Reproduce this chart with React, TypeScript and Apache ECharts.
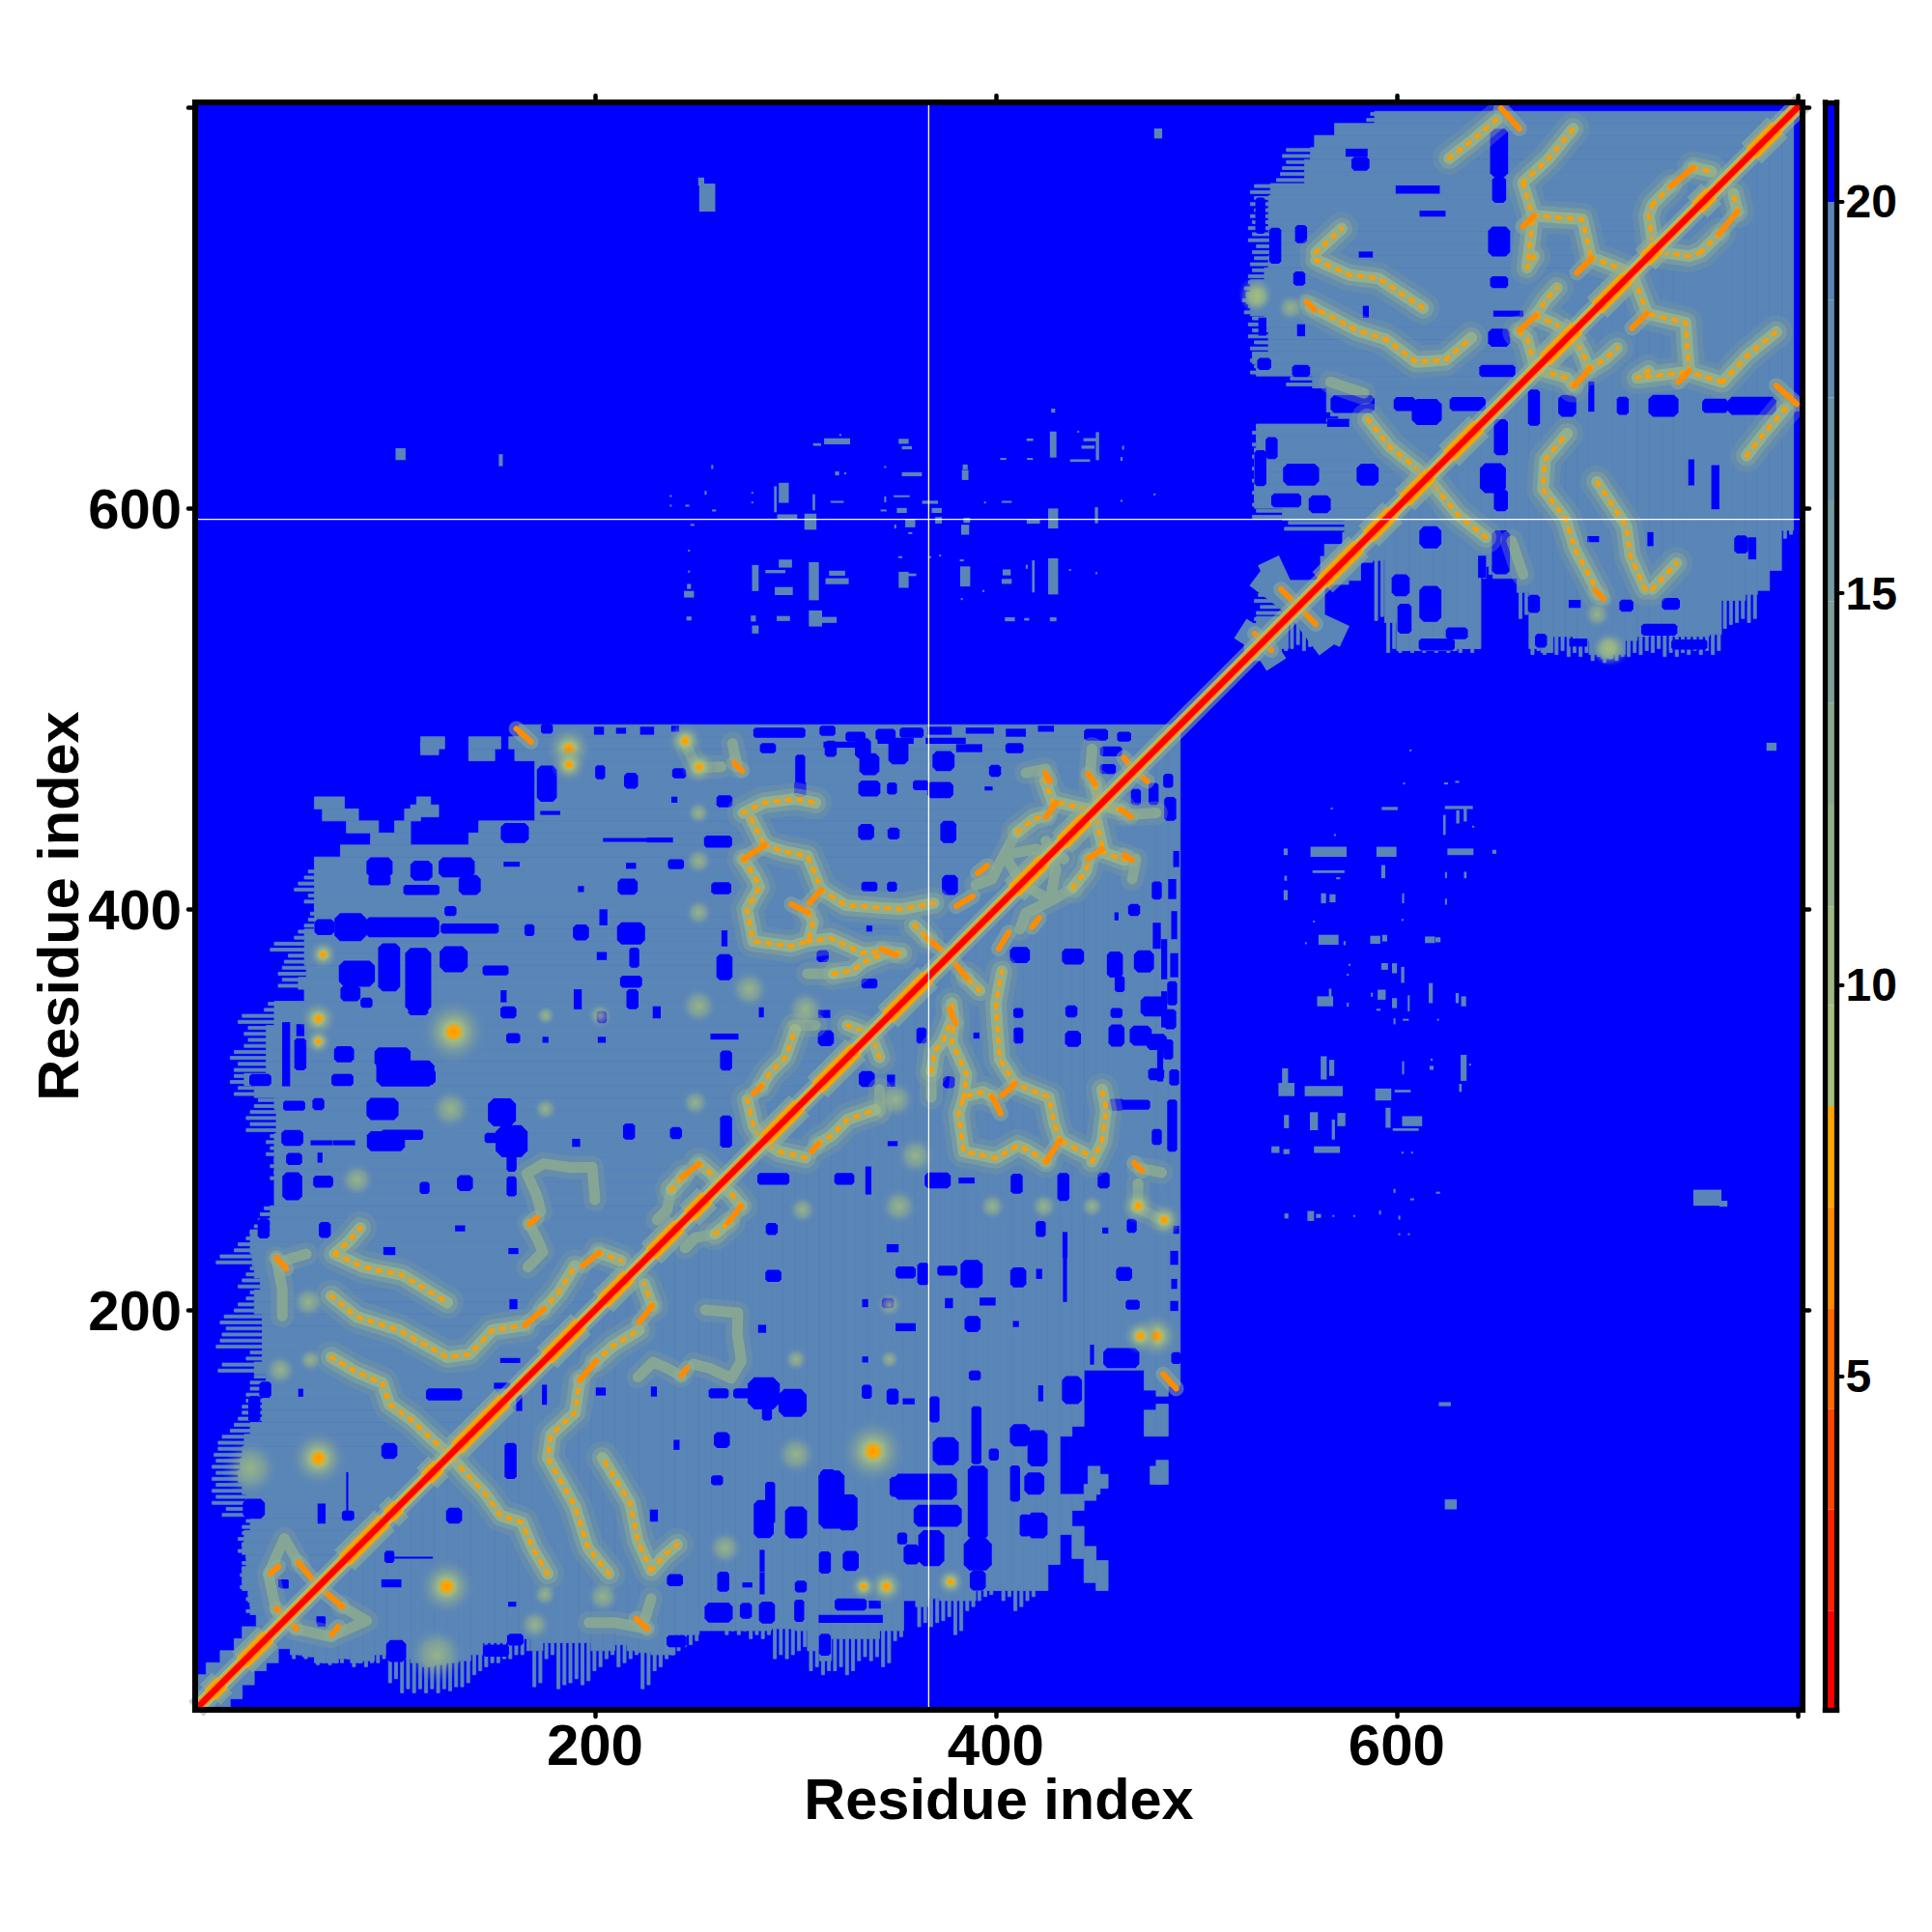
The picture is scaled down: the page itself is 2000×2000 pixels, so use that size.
import React, { useEffect, useRef } from "react";
import * as echarts from "echarts";

const AXIS_MIN = 0.5;
const AXIS_MAX = 802.5;
const STEEL = "#5a85b7";
const BLUE = "#0000ff";

const xTickLabels = [200, 400, 600];
const tickValues = [200, 400, 600, 800];
const barTicks = [5, 10, 15, 20];
const missingColumn = 366.5;
const missingRow = 594.5;

// colour bar: [from, to, colour]
const barBands: [number, number, string][] = [
  [0.74, 2.0, "#ff0000"], [2.0, 3.3, "#ff2200"], [3.3, 4.58, "#ff4500"], [4.58, 5.87, "#ff6a00"],
  [5.87, 7.16, "#ff8c00"], [7.16, 8.45, "#ffa500"], [8.45, 9.74, "#a6bf7e"], [9.74, 11.0, "#9db883"],
  [11.0, 12.3, "#93ae88"], [12.3, 13.6, "#8aa88f"], [13.6, 14.9, "#7f9f98"], [14.9, 16.2, "#749aa2"],
  [16.2, 17.5, "#6a92a9"], [17.5, 18.75, "#618cb0"], [18.75, 20, "#5a85b7"], [20, 21.27, "#0000ff"],
];

// domain 1 rows below the diagonal mirror: [residue y, solid start x, streak start x]
const rowsA: [number, number, number][] = [
  [3,0,0],[9,0,0],[15,2,2],[21,6,6],[27,13,13],[33,20,20],[39,24,24],[45,31,31],[51,28,26],[57,27,26],[63,24,23],[69,24,23],[75,26,24],[81,24,22],[87,25,22],[93,28,24],[99,30,14],[105,26,9],[111,24,9],[117,22,9],[123,23,9],[129,24,10],[135,25,12],[141,28,18],[147,34,22],[153,34,24],[159,38,26],[165,36,28],[171,30,12],[177,34,26],[183,34,11],[189,34,14],[195,34,13],[201,30,20],[207,30,26],[213,33,22],[219,30,26],[225,29,11],[231,28,20],[237,28,26],[243,38,30],[249,38,33],[255,40,40],[261,40,40],[267,40,38],[273,40,38],[279,40,36],[285,40,36],[291,41,26],[297,41,26],[303,40,30],[309,30,20],[315,25,18],[321,36,20],[327,36,18],[333,36,25],[339,36,25],[345,40,22],[351,40,35],[357,55,55],[363,52,42],[369,56,42],[375,55,45],[381,55,38],[387,55,50],[393,60,55],[399,60,58],[405,60,55],[411,60,50],[417,60,55],
  [423,60,60],[429,73,73],[435,137,137],[441,142,142],[447,170,170],[453,170,170],[459,170,170],[465,170,170],[471,170,170],[477,160,160],[483,157,157],[489,162,162],
];
// separate steel runs of domain 1: [y, x0, x1]
const sideRunsA: [number, number, number][] = [
  [435,88,108],[441,76,92],[441,100,108],[447,64,82],[447,105,113],[449,108,122],[453,111,118],[453,60,75],[477,137,150],[483,137,153],[483,113,125],[480,113,122],
];
// domain 2
const rowsB: [number, number, number][] = [
  [795,589,585],[789,569,569],[783,559,559],[777,557,543],[771,554,543],[765,554,540],[759,537,527],[753,536,527],[747,536,527],[741,536,526],[735,538,526],[729,538,528],[723,536,527],[717,534,526],[711,527,524],[705,525,523],[699,527,524],[693,534,526],[687,536,526],[681,536,527],[675,528,527],[669,530,527],[663,558,545],[657,565,565],[651,565,565],[645,571,565],[639,530,528],[633,530,528],[627,529,528],[621,529,528],[615,529,528],[609,529,528],[603,529,528],[597,543,528],[591,574,544],[585,573,573],[579,564,564],[573,562,562],[567,562,562],[561,540,530],[555,541,529],[549,543,530],[543,530,527],[537,526,526],[531,524,524],
];

// blue gaps above the diagonal: [centre x, centre y, width, height]
const holes: number[][] = [
  [176,462.6,10,18],[202.6,468.3,5,7],[218,464,7,8],[242,467.8,7,5],[239.6,454.6,3,3],[216,434.5,24,2],[232.4,434.5,13,2.5],[177.7,448,10,2],[160,438,14,10],[92.5,420.8,13,10],[113.4,419.2,11,10],[131,420.8,18,10],[137.5,412,11,10],[113.4,409.6,18,5],[92.5,414.4,11,5],[158.4,422.4,8,2.5],[218,421.6,5,3],[240.4,422.4,8,5],[216.3,411.2,10,8],[193,410,3,3],[127.9,399,6,5],[78,391,16,14],[103.8,391,37,10],[137.5,390.3,29,5],[65,391,10,8],[167.3,389.5,5,6],[193,388.4,8,8],[218,387.9,14,11],[204.2,395.9,4,8],[129.5,375,14,13],[97.3,371,11,24],[111.8,364.6,13,32],[81.2,367.8,18,13],[78,358,10,8],[86,353.3,6,5],[111.8,350,10,6],[218,363.8,11,6],[218.7,355,6,10],[203.4,376.6,5,4],[219.6,375.8,5,10],[191.4,355,4,10],[150.4,369.4,13,5],[154.4,356.5,3,6],[156.8,348.5,8,6],[203.4,346.1,5,6],[230.8,348.5,4,6],[159.2,335.6,7,5],[175.3,334.8,3,3],[203.4,334.8,4,3],[99,326,18,10],[105.4,318,29,13],[115,316.3,11,8],[74,314.7,11,6],[74.8,327.6,10,8],[45.9,327.6,4,32],[53,327.6,6,16],[53,339.6,4,6],[33,314.7,11,6],[94,300.3,16,11],[62,302.7,6,6],[49.9,301.9,11,5],[153.6,298.6,14,14],[158.4,284.2,16,16],[158.4,273,5,8],[150.4,285.8,11,5],[95.7,284.2,19,10],[103.8,287.4,21,5],[49,285.8,11,8],[63.6,283.4,11,2.5],[74.8,283.4,11,2.5],[190.6,283.4,4,4],[217,289,6,8],[240.4,288.2,6,6],[49.9,275.3,8,6],[62.8,276,2.5,5],[49,261.7,10,14],[64.4,264,10,6],[115,260.9,5,6],[135.1,263.3,8,8],[158.4,261.7,5,10],
  [286.3,480.3,8,5],[302.4,469,5,16],[302.4,460,6,8],[317.6,480,6,8],[264.6,453.8,8,6],[261.4,433.7,14,6],[263,410.4,10,6],[335.3,438.5,8,8],[349,437.7,6,6],[336.9,460.2,11,8],[348.2,460.2,5,6],[336.9,472.3,10,11],[333.7,480.3,8,10],[351.4,478.7,10,13],[362.6,461.8,8,5],[372.3,459.4,13,8],[373.9,473.9,11,10],[376.3,438.5,8,11],[377.1,412,8,10],[336.9,411.2,8,5],[348.2,411.2,5,5],[336.9,390.3,3,3],[313.6,376.6,6,6],[264.6,371,8,13],[264.6,385.4,3,8],[283,348.5,2.5,5],[314.4,347.7,6,4],[336.9,362.9,8,5],[315.2,335.6,8,8],[264.6,336.4,14,3],[265.4,324.4,6,10],[265.4,289,6,16],[455.9,469.9,8,5],[399.6,469,6,6],[396.4,460.2,4,2],[386.7,480.3,13,4],[409.3,480.3,9,5],[457.5,478.7,11,5],[322,482,16,3],[350,484,18,3],[375,484,20,3],
  [65.2,239.9,6,8],[132.7,240.7,5,3],[97.4,229.4,6,4],[159.3,202.9,4,5],[159.3,229.4,5,3],[34.7,240.7,6,10],[157.7,174.8,10,2.5],[153.6,162.2,8,3],[124.7,157.9,18,6],[35.5,160.3,6,8],[53.2,158.7,2.5,4],[30,150.6,6,13],[29.8,100.8,11,10],[97.4,129.7,8,8],[63.6,98.4,4,10],[77.3,97.6,5,4],[97.4,76.7,5,6],[108.6,76.4,21,1],[45.1,63,4,4],[63.6,44.5,4,5],
  [651.1,777.4,9,24],[651.1,758.9,7,13],[651.1,733.1,11,15],[651.1,712.8,9,6],[655.7,697.1,15,3],[651.1,685.1,11,9],[650.2,668.5,18,6],[610.5,759,22,4],[617.9,747,13,3],[581.9,771.9,9,7],[580,777.4,11,4],[552.3,736.8,6,9],[551.4,714.6,6,7],[552.3,688.8,4,6],[533,690.6,4,9],[533.9,672,7,6],[552.3,668.5,9,6],[532,746,5,18],[539.4,731,6,18],[584.6,698,3,6],[584.6,726.6,7,3],[578,652,22,9],[604,652,11,7],[615,648,15,13],[635.4,652,18,7],[585.5,616.8,11,11],[552.3,616.8,18,11],[544.9,603.9,15,7],[561.6,602,11,9],[532,620,6,18],[537.6,630,6,11],[570.8,642.6,11,4],
  [176,490,6,5],[202,489,5,4],[213,489,5,3],[226,489,7,4],[240,490,4,3],[292,488,26,5],[316,489,8,5],[330,486,10,5],[345,487,10,6],[358,488,12,5],[372,489,12,4],[392,489,14,3],[410,488,10,4],[425,490,8,3],[450,487,12,6],[464,486,7,5],
];

// steel patches between the two domains: [centre x, centre y, width, height]
const specks: number[][] = [
  [295,572.4,6.6,4],[280,565.2,3.3,13],[309.2,563.6,5,19],[294.2,558.7,9,4],[320.8,563.6,11.6,3],[320.8,567.6,8,2.5],[290,568.4,10,1.6],[310,545,6.6,8],[316.6,544.3,8,3],[280,539.5,3.3,4],[279,545,2.5,3],[294,545,6.6,2.5],[428.6,566,5,18],[405.4,568,4,3],[405.4,563.5,5,2.5],[418.7,566,1.3,16],[354,564.3,5,8],[357,566.8,6.6,1.3],[384.7,566,5,10],[428.6,594.9,5,10],[428.6,631.8,3.3,13],[447,634.2,6.6,1.6],[446,630.5,6.6,1.6],[450.7,631,1.6,14],[442,623.8,10,1.3],[320.8,633.4,13,3],[310.8,631.8,4,1.3],[354,633.4,5,2.5],[355.6,630.2,5,1.6],[358.1,617,10,2],[384.7,620.6,2.5,2.5],[384.7,616.6,3.3,5],[294.2,607.7,5,10],[290,604.5,1.3,13],[307.5,593.3,6,8],[295.9,595.7,10,2.5],[309.2,603,1.3,8],[320.8,603.2,6.6,1],[353.1,598.9,5,2.5],[357.3,592.5,5,4],[353,606,8,1],[367.2,603,8,1.6],[370.5,598.9,5,2.5],[371.4,594,3.3,3.3],[384.7,589.3,4,5],[385.5,594,3.3,2.5],[405.4,603.2,5,1],[418.7,593.3,6.6,2],[450.2,596.5,1.6,8],[246.9,557.1,5,3.3],[246.9,561,2,2.5],[246.9,545,2.5,2],[407,544.6,5,2],[428.6,544.6,3.3,2],[415.4,544.6,2.5,1.3],[428.6,648.7,2,2],[417,634.2,3.3,1.3],
  [278.5,607.7,1,1],[278.5,602.9,1,1],[237.8,606.1,1,1],[237.8,601.3,1,1],[246.1,601.3,2,1],[258.5,620.6,1,2],[255.2,607.7,1,2],[259.4,598.9,2,1],[344.8,620.6,1,1],[344.8,604.5,1,3],[344,598.9,3,1],[349.8,590.9,1,2],[357.3,587.6,2,1],[394.6,602.9,1,1],[403.7,624.6,3,1],[417,624.6,3,1],[463.5,630.2,1,2],[462.7,624.6,1,2],[437,569.2,1,1],[450.2,567.6,1,1],[415.4,570.8,1,2],[352.3,575.6,2,1],[367.2,575.6,1,1],[372.2,576.4,1,1],[383,574,2,1],[248.6,591.7,2,1],[246.9,578.8,1,1],[246.9,568.4,1,1],[322.4,636.6,1,1],[320.8,617.4,2,2],[324.9,617.4,1,1],[462.7,603.7,1,1],[479.2,606.9,1,1],[441.1,638.2,1,1],[393.8,558.7,1,1],[383,554.7,1,1],
  [256,755,8,14],[253,763,3,4],[481,787,4,5],[103,627,5,6],[153,624,2,6],
];

// ridges above the diagonal, each a list of [x, y]
const ridgeBars: number[][][] = [
  [[52,74],[62,62]],[[41,51],[46,46]],[[38,68.6],[42,71.9]],[[41,226],[46,220.6]],[[165,192.4],[174.5,200.5]],[[193.8,222],[202,228.6]],[[167.3,243],[171,246]],[[243.6,266.4],[251.7,272.9]],[[274,425],[284.7,432]],[[307,403],[312.8,409.6]],[[298,402.4],[306.4,398.3]],[[343,380],[350,377]],[[365.8,385.4],[375.5,377.4]],[[279,308],[283,311.5]],[[380.3,401.5],[388.4,406.4]],[[391,418],[395.6,421.6]],[[425,446],[430,453]],[[424.5,468],[427,464]],[[446,467.5],[449.5,462.6]],[[463.9,475.5],[469.6,468.3]],[[269.4,473],[273.4,469]],[[160.8,490],[168,483.5]],[[652,799.6],[661.2,789.4]],[[555,703],[559,699]],[[663,740.5],[668.6,746]],[[689.9,717.4],[697.2,724.8]],[[661.2,688.8],[669.5,696.2]],[[736.9,760.8],[748,770]],[[542.2,559.6],[550.5,551.3]],[[529.2,537.4],[533,533.7]],
];
const ridgeDotted: number[][][] = [
  [[70,228],[84.5,221.4],[103.8,217.4],[112,212.5],[126.3,203.7]],[[70,228],[77,234],[83,241]],
  [[68.4,207],[81.3,196.5],[102,190],[115,182.8],[126.3,176.4],[137.6,178],[148.8,190],[165,192.4]],
  [[68.4,176.4],[81,169],[94,163.5],[97.4,153],[108.6,145],[118,136],[128,127.3]],
  [[174,200],[182,209],[190,222]],[[202,228.6],[213,224.6]],
  [[238,260],[244,267]],[[252,273],[258,268],[262,263]],
  [[274,448],[284,453],[300,455],[310,453]],[[278,445],[282,437],[284.7,432]],
  [[284.7,432],[293.5,429],[306,426.5],[309.6,417.6],[312.8,409.6]],
  [[274,425],[279.8,416],[282,411],[275.8,400],[279,384],[298,381.4],[306.4,384],[308.8,393.5],[306.4,398.3]],
  [[312.8,409.6],[325,402],[341.7,400.7],[353,400],[369,403]],
  [[306,384],[317.6,385.4],[333.7,378],[343.4,379],[353,378]],[[359.4,391.9],[365.8,385.4]],
  [[319,367.8],[328.9,369.4],[333.7,373.4],[345,378]],
  [[283,311.5],[287,318],[295,326],[300,340]],[[276,305],[279,292],[284,284]],[[326,342],[334,339]],
  [[410.9,438.5],[419,445],[425.4,446.6]],[[428.5,453],[424.5,464]],[[431.8,453],[449.5,449]],[[449.5,462],[452,452]],
  [[626.2,774.6],[637,783],[650,794]],[[559.7,727.6],[572.6,739.6]],
  [[559.7,723.9],[576.3,716.5],[591,714.6],[613.2,699.9]],
  [[557,700.8],[580,688.8],[594.8,684.2],[609.5,673],[624.3,674],[637.2,685]],
  [[585.5,644.5],[596.6,630.6],[611.4,618.6]],[[663,762.6],[676,774.6],[688,789.4]],[[663,762],[668,746]],
  [[668.6,746],[680,745],[692.6,744.2],[697,725]],[[668.6,725.7],[665,720],[668,745]],[[697,725],[700,724],[714.8,718.3]],
  [[669.5,696.2],[674.2,703.6],[680,710]],[[669.5,696],[677.9,692.5],[682.5,689.7]],[[661,688],[665,685],[668.6,672.2]],
  [[727.7,751.6],[737,761]],[[727.7,751.6],[725.8,746],[728,730]],[[748,770],[757,768]],
];
const ridgeFaint: number[][][] = [
  [[41,50],[37,68],[45,86],[52,74]],[[41,226],[44,210],[44,197]],[[46,225],[56,228]],
  [[167,243],[171,236],[174,229],[166.5,221.4]],[[173,249],[171,257],[166,268],[174.5,273],[188,271],[198.6,271.3],[200,255]],
  [[238,260],[236,250],[231,245]],[[306,367.8],[319,367.8]],[[299,342],[310,342]],[[404.4,427],[410.9,416]],[[404,427],[398,415],[390,412]],[[410,438],[404,427]],
  [[448,480],[447,466]],[[425,470],[415,468]],[[434,425],[420,430],[404,427]],[[268.6,482.7],[271,471]],[[253,470.7],[263,471]],[[245,483],[251,470]],
  [[567,663],[583.7,657.4]],
];
// steel arms of the two crossings around residue 540
const starArms: number[][][] = [[[536,574],[543,559]],[[530,566],[550,551]],[[522,540],[533,533]]];

// blobs of short distance: [x, y, diameter in pixels]
const blobsStrong: number[][] = [[62,126,62],[129.5,338.8,72],[64.4,377.4,32],[62,345.3,40],[62,334,30],[187,480,50],[187,472,38],[245,484,38],[252,471,38]];
const blobsFaint: number[][] = [[28,121,60],[57,204,36],[43,170,34],[58,175,26],[127.9,300.3,44],[175.3,300.3,26],[251.7,398.3,30],[251.7,424,30],[251.7,448,26],[175.3,346.9,22],[202.6,346.9,28],[251.7,351.7,40],[250,303.5,30],[81.3,264.9,38],[277,360,42],[305,350,42],[530,707,38],[547,700,30],[705,530,34]];

// stretches of the diagonal where the band is thick
const thickDiagonal: [number, number][] = [[8,14],[24,37],[75,95],[97,102],[116,122],[131,155],[176,193],[204,217],[228,242],[247,256],[285,302],[311,330],[346,366],[409,424],[433,445],[563,581],[586,598],[604,617],[626,641],[674,690],[700,715],[724,730],[750,757],[777,790]];
const diagonalEnds = [1, 802];

const mirror = (p: number[]) => [p[1], p[0]];
const box = ([x, y, w, h]: number[]) => [x - w / 2, y - h / 2, x + w / 2, y + h / 2];
const mirrorBox = ([x, y, w, h]: number[]) => box([y, x, h, w]);

function rowBoxes(rows: [number, number, number][]) {
  const solid: number[][] = [];
  rows.forEach(([y, x0, xs]) => {
    solid.push([x0, y - 3, y, y + 3], [y - 3, x0, y + 3, y]);
    if (xs < x0) {
      solid.push([xs, y - 2, x0, y - 0.5], [xs + 2, y + 1, x0, y + 2.5]);
      solid.push([y - 2, xs, y - 0.5, x0], [y + 1, xs + 2, y + 2.5, x0]);
    }
  });
  return solid;
}
function runBoxes(runs: [number, number, number][]) {
  const out: number[][] = [];
  runs.forEach(([y, a, b]) => out.push([a, y - 3, b, y + 3], [y - 3, a, y + 3, b]));
  return out;
}
const withMirror = (list: number[][]) => list.flatMap((b) => [box(b), mirrorBox(b)]);
function linePath(list: number[][][]) {
  const out: any[] = [];
  list.forEach((r) => {
    r.forEach((p) => out.push(p));
    out.push(["-", "-"]);
    r.forEach((p) => out.push(mirror(p)));
    out.push(["-", "-"]);
  });
  return out;
}

function rectSeries(data: number[][], fill: string, z: number, seam = 0, rounded = false) {
  return {
    type: "custom", xAxisIndex: 0, yAxisIndex: 0, clip: true, z, silent: true, data,
    encode: { x: [0, 2], y: [1, 3] },
    renderItem: (_: any, api: any) => {
      const a = api.coord([api.value(0), api.value(3)]);
      const b = api.coord([api.value(2), api.value(1)]);
      const w = b[0] - a[0];
      const h = b[1] - a[1];
      const style: any = { fill, stroke: seam ? fill : undefined, lineWidth: seam };
      if (rounded && Math.min(w, h) >= 9) {
        const cx = Math.min(w, h) * 0.2;
        return {
          type: "polygon", style,
          shape: { points: [[a[0] + cx, a[1]], [b[0] - cx, a[1]], [b[0], a[1] + cx], [b[0], b[1] - cx], [b[0] - cx, b[1]], [a[0] + cx, b[1]], [a[0], b[1] - cx], [a[0], a[1] + cx]] },
        };
      }
      return { type: "rect", shape: { x: a[0], y: a[1], width: w, height: h }, style };
    },
  };
}
function lineSeries(data: any[], color: string, width: number, opacity: number, z: number, type: any = "solid", cap = "butt") {
  return {
    type: "line", xAxisIndex: 0, yAxisIndex: 0, data, z, silent: true, showSymbol: false, symbol: "none",
    connectNulls: false, lineStyle: { color, width, opacity, type, cap, join: "round" },
  };
}
function blobSeries(data: number[][], stops: [number, string][], z: number) {
  const all = data.flatMap((b) => [b, [b[1], b[0], b[2]]]);
  return {
    type: "scatter", xAxisIndex: 0, yAxisIndex: 0, z, silent: true, data: all,
    symbolSize: (v: number[]) => v[2],
    itemStyle: { opacity: 1, color: { type: "radial", x: 0.5, y: 0.5, r: 0.5, colorStops: stops.map(([offset, color]) => ({ offset, color })) } },
  };
}

const FONT = "Liberation Sans";
const frame = (position: string, gridIndex: number, min: number, max: number, extra: any = {}) => ({
  type: "value", position, gridIndex, min, max, z: 20, splitLine: { show: false },
  axisLine: { show: true, onZero: false, lineStyle: { color: "#000", width: gridIndex ? 5.3 : 6, cap: "square" } },
  axisTick: { show: false }, axisLabel: { show: false }, ...extra,
});
const mainTicks = { show: true, length: 7, customValues: tickValues, lineStyle: { color: "#000", width: 4.5, cap: "round" } };

export default function App() {
  const ref = useRef<HTMLDivElement>(null);
  useEffect(() => {
    const chart = echarts.init(ref.current!, undefined, { renderer: "svg" });
    const steel = [...rowBoxes(rowsA), ...rowBoxes(rowsB), ...runBoxes(sideRunsA)];
    const diag = [[diagonalEnds[0], diagonalEnds[0]], [diagonalEnds[1], diagonalEnds[1]]];
    const thick = thickDiagonal.flatMap(([a, b]) => [[a, a], [b, b], ["-", "-"]]);
    const barData = linePath(ridgeBars);
    const dotData = linePath(ridgeDotted);
    const faintData = linePath(ridgeFaint);
    chart.setOption({
      animation: false,
      backgroundColor: "#fff",
      grid: [
        { left: 202, top: 106, width: 1664, height: 1664, show: true, backgroundColor: BLUE, borderWidth: 0 },
        { left: 1889.5, top: 106, width: 12, height: 1664, show: false },
      ],
      xAxis: [
        frame("bottom", 0, AXIS_MIN, AXIS_MAX, {
          axisTick: mainTicks, name: "Residue index", nameLocation: "middle", nameGap: 62, nameMoveOverlap: false,
          nameTextStyle: { fontFamily: FONT, fontWeight: "bold", fontSize: 59.5, color: "#000" },
          axisLabel: { show: true, customValues: xTickLabels, margin: 6, fontFamily: FONT, fontWeight: "bold", fontSize: 60, color: "#000" },
        }),
        frame("top", 0, AXIS_MIN, AXIS_MAX, { axisTick: mainTicks }),
        frame("bottom", 1, 0, 1),
        frame("top", 1, 0, 1),
      ],
      yAxis: [
        frame("left", 0, AXIS_MIN, AXIS_MAX, {
          axisTick: mainTicks, name: "Residue index", nameLocation: "middle", nameGap: 112, nameRotate: 90, nameMoveOverlap: false,
          nameTextStyle: { fontFamily: FONT, fontWeight: "bold", fontSize: 59.5, color: "#000" },
          axisLabel: { show: true, customValues: xTickLabels, margin: 14, fontFamily: FONT, fontWeight: "bold", fontSize: 58, color: "#000" },
        }),
        frame("right", 0, AXIS_MIN, AXIS_MAX, { axisTick: mainTicks }),
        frame("left", 1, 0.74, 21.27),
        frame("right", 1, 0.74, 21.27, {
          axisTick: { show: true, length: 6, customValues: barTicks, lineStyle: { color: "#000", width: 4, cap: "round" } },
          axisLabel: { show: true, customValues: barTicks, margin: 9, fontFamily: FONT, fontWeight: "bold", fontSize: 48, color: "#000" },
        }),
      ],
      series: [
        rectSeries(steel, STEEL, 2, 0.8),
        lineSeries(linePath(starArms), STEEL, 24, 1, 2),
        rectSeries(withMirror(holes), BLUE, 3, 0, true),
        rectSeries(withMirror(specks), STEEL, 4),
        lineSeries(faintData, "#7f9f98", 24, 0.35, 5, "solid", "round"),
        lineSeries(faintData, "#a6bf7e", 11, 0.5, 5, "solid", "round"),
        lineSeries(dotData, "#7f9f98", 34, 0.3, 5, "solid", "round"),
        lineSeries(dotData, "#8fae95", 22, 0.4, 5, "solid", "round"),
        lineSeries(dotData, "#a6bf7e", 12, 0.6, 5, "solid", "round"),
        lineSeries(barData, "#8fae95", 16, 0.5, 5, "solid", "round"),
        blobSeries(blobsFaint, [[0, "rgba(166,191,126,0.8)"], [0.5, "rgba(166,191,126,0.4)"], [1, "rgba(90,133,183,0)"]], 6),
        blobSeries(blobsStrong, [[0, "#ff9800"], [0.14, "#ffa500"], [0.28, "rgba(166,191,126,0.9)"], [1, "rgba(90,133,183,0)"]], 6),
        lineSeries(dotData, "#ff9c00", 4.5, 0.95, 7, [3, 9], "round"),
        lineSeries(barData, "#ff8c00", 6, 1, 8, "solid", "round"),
        lineSeries(diag, "#8fae95", 22, 0.55, 9),
        lineSeries(thick, "#8fae95", 30, 0.6, 9),
        lineSeries(diag, "#a6bf7e", 14, 1, 10),
        lineSeries(thick, "#ffa500", 16, 1, 11),
        lineSeries(diag, "#ff8c00", 9.5, 1, 12),
        lineSeries(diag, "#ff0000", 6.5, 1, 13),
        lineSeries([[missingColumn, AXIS_MIN], [missingColumn, AXIS_MAX]], "#ffffff", 1.3, 1, 15),
        lineSeries([[AXIS_MIN, missingRow], [AXIS_MAX, missingRow]], "#ffffff", 1.3, 1, 15),
        {
          type: "custom", xAxisIndex: 2, yAxisIndex: 2, clip: true, z: 5, silent: true,
          data: barBands.map(([a, b], i) => [a, b, i]),
          encode: { y: [0, 1] },
          renderItem: (_: any, api: any) => {
            const lo = api.coord([0, api.value(0)]);
            const hi = api.coord([1, api.value(1)]);
            return {
              type: "rect",
              shape: { x: lo[0], y: hi[1], width: hi[0] - lo[0], height: lo[1] - hi[1] },
              style: { fill: barBands[api.value(2)][2] },
            };
          },
        },
      ],
    });
    return () => chart.dispose();
  }, []);
  return <div ref={ref} style={{ position: "absolute", left: 0, top: 0, width: 2000, height: 2000, background: "#fff" }} />;
}
